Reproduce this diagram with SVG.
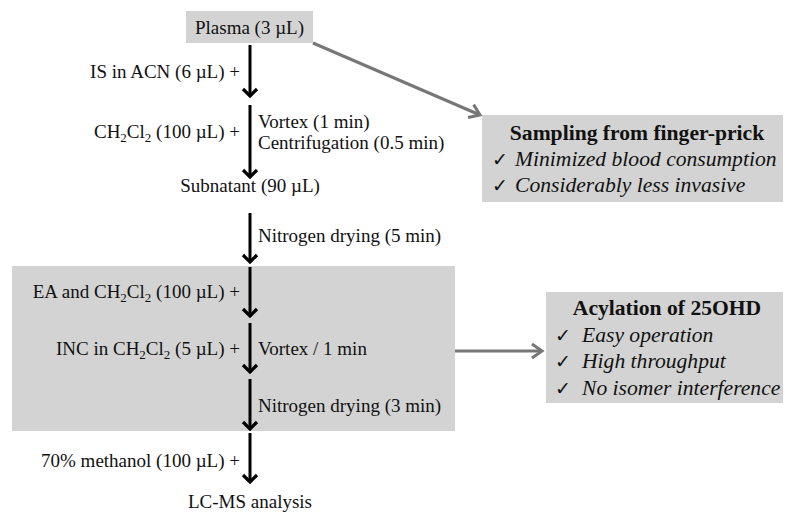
<svg xmlns="http://www.w3.org/2000/svg" width="785" height="513" viewBox="0 0 785 513">
<style>
text{font-family:"Liberation Serif","Times New Roman",serif;font-size:19px;fill:#111}
.r{text-anchor:end}
.c{text-anchor:middle}
.b{font-weight:bold}
.i{font-style:italic}
.big{font-size:21.6px}
.ck{font-size:19px}
.box{fill:#d3d3d3}
.main{stroke:#000;stroke-width:3;fill:none}
.side{stroke:#777;stroke-width:3;fill:none}
.sub{font-size:13px}
</style>
<defs>
<marker id="ah" viewBox="-10 -10 20 20" markerWidth="20" markerHeight="20" markerUnits="userSpaceOnUse" orient="auto" refX="0" refY="0">
<path d="M-7,-7 L0,0 L-7,7" fill="none" stroke="#000" stroke-width="3.2"/>
</marker>
<marker id="ahg" viewBox="-12 -12 24 24" markerWidth="24" markerHeight="24" markerUnits="userSpaceOnUse" orient="auto" refX="0" refY="0">
<path d="M-10,-7 L0,0 L-10,7" fill="none" stroke="#777" stroke-width="3"/>
</marker>
</defs>
<g id="bg-acylation"><rect class="box" x="12" y="266" width="443" height="165"/></g>
<g id="plasma"><rect class="box" x="186" y="11" width="127" height="32"/><text class="c" x="249.5" y="34">Plasma (3 µL)</text></g>
<g id="sampling">
<rect class="box" x="482" y="115" width="301" height="87"/>
<text class="c b big" x="637" y="140">Sampling from finger-prick</text>
<text class="ck" x="492" y="166">✓</text><text class="i big" x="515" y="166">Minimized blood consumption</text>
<text class="ck" x="492" y="192">✓</text><text class="i big" x="515" y="192">Considerably less invasive</text>
</g>
<g id="acylation">
<rect class="box" x="546" y="292" width="237" height="111"/>
<text class="c b big" x="667" y="315">Acylation of 25OHD</text>
<text class="ck" x="555" y="342">✓</text><text class="i big" x="582" y="342">Easy operation</text>
<text class="ck" x="555" y="368">✓</text><text class="i big" x="582" y="368">High throughput</text>
<text class="ck" x="555" y="395">✓</text><text class="i big" x="582" y="395">No isomer interference</text>
</g>
<g id="labels">
<text class="r" x="240" y="78">IS in ACN (6 µL) +</text>
<text class="r" x="240" y="138">CH<tspan class="sub" dy="4">2</tspan><tspan dy="-4">Cl</tspan><tspan class="sub" dy="4">2</tspan><tspan dy="-4"> (100 µL) +</tspan></text>
<text x="258" y="128">Vortex (1 min)</text>
<text x="258" y="149">Centrifugation (0.5 min)</text>
<text class="c" x="250" y="192">Subnatant (90 µL)</text>
<text x="258" y="242">Nitrogen drying (5 min)</text>
<text class="r" x="240" y="298">EA and CH<tspan class="sub" dy="4">2</tspan><tspan dy="-4">Cl</tspan><tspan class="sub" dy="4">2</tspan><tspan dy="-4"> (100 µL) +</tspan></text>
<text class="r" x="240" y="355">INC in CH<tspan class="sub" dy="4">2</tspan><tspan dy="-4">Cl</tspan><tspan class="sub" dy="4">2</tspan><tspan dy="-4"> (5 µL) +</tspan></text>
<text x="258" y="355">Vortex / 1 min</text>
<text x="258" y="412">Nitrogen drying (3 min)</text>
<text class="r" x="240" y="467">70% methanol (100 µL) +</text>
<text class="c" x="250" y="508">LC-MS analysis</text>
</g>
<g id="connectors">
<line class="main" x1="250" y1="45" x2="250" y2="96" marker-end="url(#ah)"/>
<line class="main" x1="250" y1="105" x2="250" y2="177" marker-end="url(#ah)"/>
<line class="main" x1="250" y1="213" x2="250" y2="262" marker-end="url(#ah)"/>
<line class="main" x1="250" y1="267" x2="250" y2="316" marker-end="url(#ah)"/>
<line class="main" x1="250" y1="323" x2="250" y2="372" marker-end="url(#ah)"/>
<line class="main" x1="250" y1="379" x2="250" y2="429" marker-end="url(#ah)"/>
<line class="main" x1="250" y1="433" x2="250" y2="482" marker-end="url(#ah)"/>
<line class="side" x1="313" y1="43" x2="480" y2="115" marker-end="url(#ahg)"/>
<line class="side" x1="455" y1="351" x2="542" y2="351" marker-end="url(#ahg)"/>
</g>
</svg>
